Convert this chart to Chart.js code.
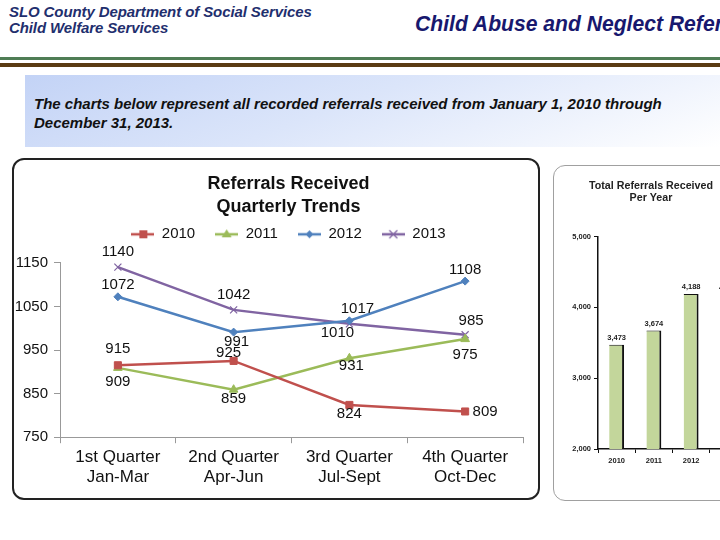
<!DOCTYPE html>
<html>
<head>
<meta charset="utf-8">
<script src="https://cdn.jsdelivr.net/npm/chart.js@4.4.1/dist/chart.umd.min.js"></script>
<style>
  html, body { margin: 0; padding: 0; width: 720px; height: 540px; overflow: hidden; background: #fff; font-family: "Liberation Sans", Arial, sans-serif; }
  .abs { position: absolute; }
  #org { left: 9px; top: 4px; font-size: 15px; font-weight: bold; font-style: italic; color: #1f2f6e; line-height: 16px; letter-spacing: -0.1px; }
  #pageTitle { left: 415px; top: 11px; font-size: 22px; line-height: 25px; font-weight: bold; font-style: italic; color: #18186e; white-space: nowrap; transform: scaleX(0.96); transform-origin: left top; }
  #rule1 { left: 0; top: 57px; width: 720px; height: 3px; background: #4f7d55; }
  #rule2 { left: 0; top: 63px; width: 720px; height: 4px; background: #5b3b12; }
  #banner { left: 25px; top: 75px; width: 695px; height: 72px; background: linear-gradient(160deg, #c3d3f6 0%, #dbe5fa 45%, #ffffff 100%); }
  #banner p { margin: 0; position: absolute; left: 9px; top: 19px; font-size: 15px; font-weight: bold; font-style: italic; color: #111; line-height: 19px; }
  #box1 { left: 12px; top: 158px; width: 524px; height: 338px; border: 2px solid #222; border-radius: 12px; }
  #box2 { left: 553px; top: 165px; width: 200px; height: 334px; border: 1px solid #a0a0a0; border-radius: 12px; }
  #c1wrap { left: 14px; top: 160px; width: 524px; height: 338px; }
  #c2wrap { left: 555px; top: 167px; width: 192px; height: 330px; }
</style>
</head>
<body>
<div id="org" class="abs">SLO County Department of Social Services<br>Child Welfare Services</div>
<div id="pageTitle" class="abs">Child Abuse and Neglect Referrals</div>
<div id="rule1" class="abs"></div>
<div id="rule2" class="abs"></div>
<div id="banner" class="abs"><p>The charts below represent all recorded referrals received from January 1, 2010 through<br>December 31, 2013.</p></div>
<div id="box1" class="abs"></div>
<div id="box2" class="abs"></div>
<div id="c1wrap" class="abs"><canvas id="quarterChart"></canvas></div>
<div id="c2wrap" class="abs"><canvas id="yearChart"></canvas></div>

<script>
// Chart data
const quarters = [['1st Quarter', 'Jan-Mar'], ['2nd Quarter', 'Apr-Jun'], ['3rd Quarter', 'Jul-Sept'], ['4th Quarter', 'Oct-Dec']];
const years = ['2010', '2011', '2012', '2013'];
const refs2010 = [915, 925, 824, 809];
const refs2011 = [909, 859, 931, 975];
const refs2012 = [1072, 991, 1017, 1108];
const refs2013 = [1140, 1042, 1010, 985];
const quarterTicks = [750, 850, 950, 1050, 1150];
const yearTotals = [3473, 3674, 4188, 4177];
const yearTicks = [2000, 3000, 4000, 5000];

const FONT = '"Liberation Sans", Arial, sans-serif';

// Legend marker: short line with the series marker on it
function legendMark(color, style) {
    const c = document.createElement('canvas');
    c.width = 23; c.height = 12;
    const g = c.getContext('2d');
    g.strokeStyle = color; g.fillStyle = color; g.lineWidth = 2.5;
    g.beginPath(); g.moveTo(0, 6); g.lineTo(23, 6); g.stroke();
    g.beginPath();
    if (style === 'rect') { g.fillRect(8, 2, 8, 8); }
    else if (style === 'triangle') { g.moveTo(11.5, 1); g.lineTo(16.5, 9); g.lineTo(6.5, 9); g.closePath(); g.fill(); }
    else if (style === 'rectRot') { g.moveTo(11.5, 2); g.lineTo(15.5, 6); g.lineTo(11.5, 10); g.lineTo(7.5, 6); g.closePath(); g.fill(); }
    else { g.lineWidth = 1.2; g.moveTo(7.5, 2); g.lineTo(15.5, 10); g.moveTo(15.5, 2); g.lineTo(7.5, 10); g.stroke(); }
    return c;
}

function series(label, data, color, style, place) {
    return {
        label: label, data: data, borderColor: color, backgroundColor: color,
        borderWidth: 2.5, pointStyle: style, pointRadius: style === 'rectRot' ? 4 : 5,
        pointBorderWidth: style === 'crossRot' ? 1.2 : 1, tension: 0,
        legendImg: legendMark(color, style), labelPlace: place
    };
}

// value labels next to each point: [dx, dy] from the point
const pointLabels = {
    id: 'pointLabels',
    afterDatasetsDraw(chart) {
        const ctx = chart.ctx;
        ctx.save();
        ctx.font = '15px ' + FONT;
        ctx.fillStyle = '#111';
        ctx.textAlign = 'center';
        ctx.textBaseline = 'middle';
        chart.data.datasets.forEach((ds, i) => {
            chart.getDatasetMeta(i).data.forEach((pt, j) => {
                const p = ds.labelPlace[j];
                ctx.fillText(ds.data[j], pt.x + p[0], pt.y + p[1]);
            });
        });
        ctx.restore();
    }
};

// title and legend sit centred over the plot, not the whole canvas
const shiftHeader = {
    id: 'shiftHeader',
    beforeInit(chart) {
        const fit = chart.legend.fit;
        chart.legend.fit = function () { fit.call(this); this.height = 56; };
    },
    afterLayout(chart) {
        [chart.titleBlock, chart.legend].forEach(b => { b.left += 20; b.right += 20; });
    }
};

new Chart(document.getElementById('quarterChart'), {
    type: 'line',
    data: {
        labels: quarters,
        datasets: [
            series('2010', refs2010, '#c0504d', 'rect', [[0, -16], [-5, -8], [0, 9], [20, 0]]),
            series('2011', refs2011, '#9bbb59', 'triangle', [[0, 14], [0, 9], [2, 8], [0, 16]]),
            series('2012', refs2012, '#4f81bd', 'rectRot', [[0, -12], [3, 10], [8, -12], [0, -11]]),
            series('2013', refs2013, '#8064a2', 'crossRot', [[0, -15], [0, -15], [-12, 9], [6, -14]])
        ]
    },
    options: {
        responsive: true, maintainAspectRatio: false, animation: false,
        layout: { padding: { left: 0, right: 15, bottom: 6 } },
        plugins: {
            title: {
                display: true, text: ['Referrals Received', 'Quarterly Trends'],
                color: '#111', font: { family: FONT, size: 18, weight: 'bold', lineHeight: 1.3 },
                padding: { top: 12, bottom: -12 }
            },
            legend: {
                labels: {
                    usePointStyle: true, pointStyleWidth: 23, boxHeight: 12, padding: 20,
                    color: '#111', font: { family: FONT, size: 15 },
                    generateLabels(chart) {
                        return chart.data.datasets.map((ds, i) => ({
                            text: ds.label, pointStyle: ds.legendImg, datasetIndex: i,
                            fontColor: '#111', lineWidth: 0, strokeStyle: 'transparent', fillStyle: 'transparent'
                        }));
                    }
                }
            },
            tooltip: { enabled: false }
        },
        scales: {
            x: {
                offset: true,
                grid: { offset: true, drawOnChartArea: false, drawTicks: true, tickLength: 6, color: '#999' },
                border: { color: '#999' },
                ticks: { color: '#111', font: { family: FONT, size: 17 }, padding: 4, maxRotation: 0 }
            },
            y: {
                min: quarterTicks[0], max: quarterTicks[quarterTicks.length - 1],
                afterBuildTicks(scale) { scale.ticks = quarterTicks.map(v => ({ value: v })); },
                afterFit(scale) { scale.width = 46; },
                grid: { drawOnChartArea: false, drawTicks: true, tickLength: 6, color: '#999' },
                border: { color: '#999' },
                ticks: { color: '#111', font: { family: FONT, size: 15 }, padding: 6, callback: v => String(v) }
            }
        }
    },
    plugins: [pointLabels, shiftHeader]
});

// Bar labels above each bar
const barLabels = {
    id: 'barLabels',
    afterDatasetsDraw(chart) {
        const ctx = chart.ctx;
        ctx.save();
        ctx.font = 'bold 7.5px ' + FONT;
        ctx.fillStyle = '#222';
        ctx.textAlign = 'center';
        ctx.textBaseline = 'bottom';
        chart.getDatasetMeta(0).data.forEach((bar, j) => {
            ctx.fillText(yearTotals[j].toLocaleString('en-US'), bar.x, bar.y - 3);
        });
        ctx.restore();
    }
};

new Chart(document.getElementById('yearChart'), {
    type: 'bar',
    data: {
        labels: years,
        datasets: [{
            data: yearTotals, backgroundColor: '#c3d69b', borderColor: '#111',
            borderWidth: { top: 1, right: 2, left: 0, bottom: 0 }, borderSkipped: false,
            barPercentage: 0.8, categoryPercentage: 0.5
        }]
    },
    options: {
        responsive: true, maintainAspectRatio: false, animation: false,
        layout: { padding: { right: 0, bottom: 29 } },
        plugins: {
            legend: { display: false },
            tooltip: { enabled: false },
            title: {
                display: true, text: ['Total Referrals Received', 'Per Year'],
                color: '#222', font: { family: FONT, size: 10.7, weight: 'bold', lineHeight: 1.15 },
                padding: { top: 13, bottom: 32 }
            }
        },
        scales: {
            x: {
                grid: { offset: true, drawOnChartArea: false, drawTicks: true, tickLength: 4, color: '#111' },
                border: { color: '#111', width: 1.5 },
                ticks: { color: '#222', font: { family: FONT, size: 7.5, weight: 'bold' }, padding: 3 }
            },
            y: {
                min: yearTicks[0], max: yearTicks[yearTicks.length - 1],
                afterBuildTicks(scale) { scale.ticks = yearTicks.map(v => ({ value: v })); },
                afterFit(scale) { scale.width = 43; },
                grid: { drawOnChartArea: false, drawTicks: true, tickLength: 4, color: '#111' },
                border: { color: '#111', width: 1.5 },
                ticks: { color: '#222', font: { family: FONT, size: 7.5, weight: 'bold' }, padding: 3,
                    callback: v => v.toLocaleString('en-US') }
            }
        }
    },
    plugins: [barLabels]
});
</script>
</body>
</html>
